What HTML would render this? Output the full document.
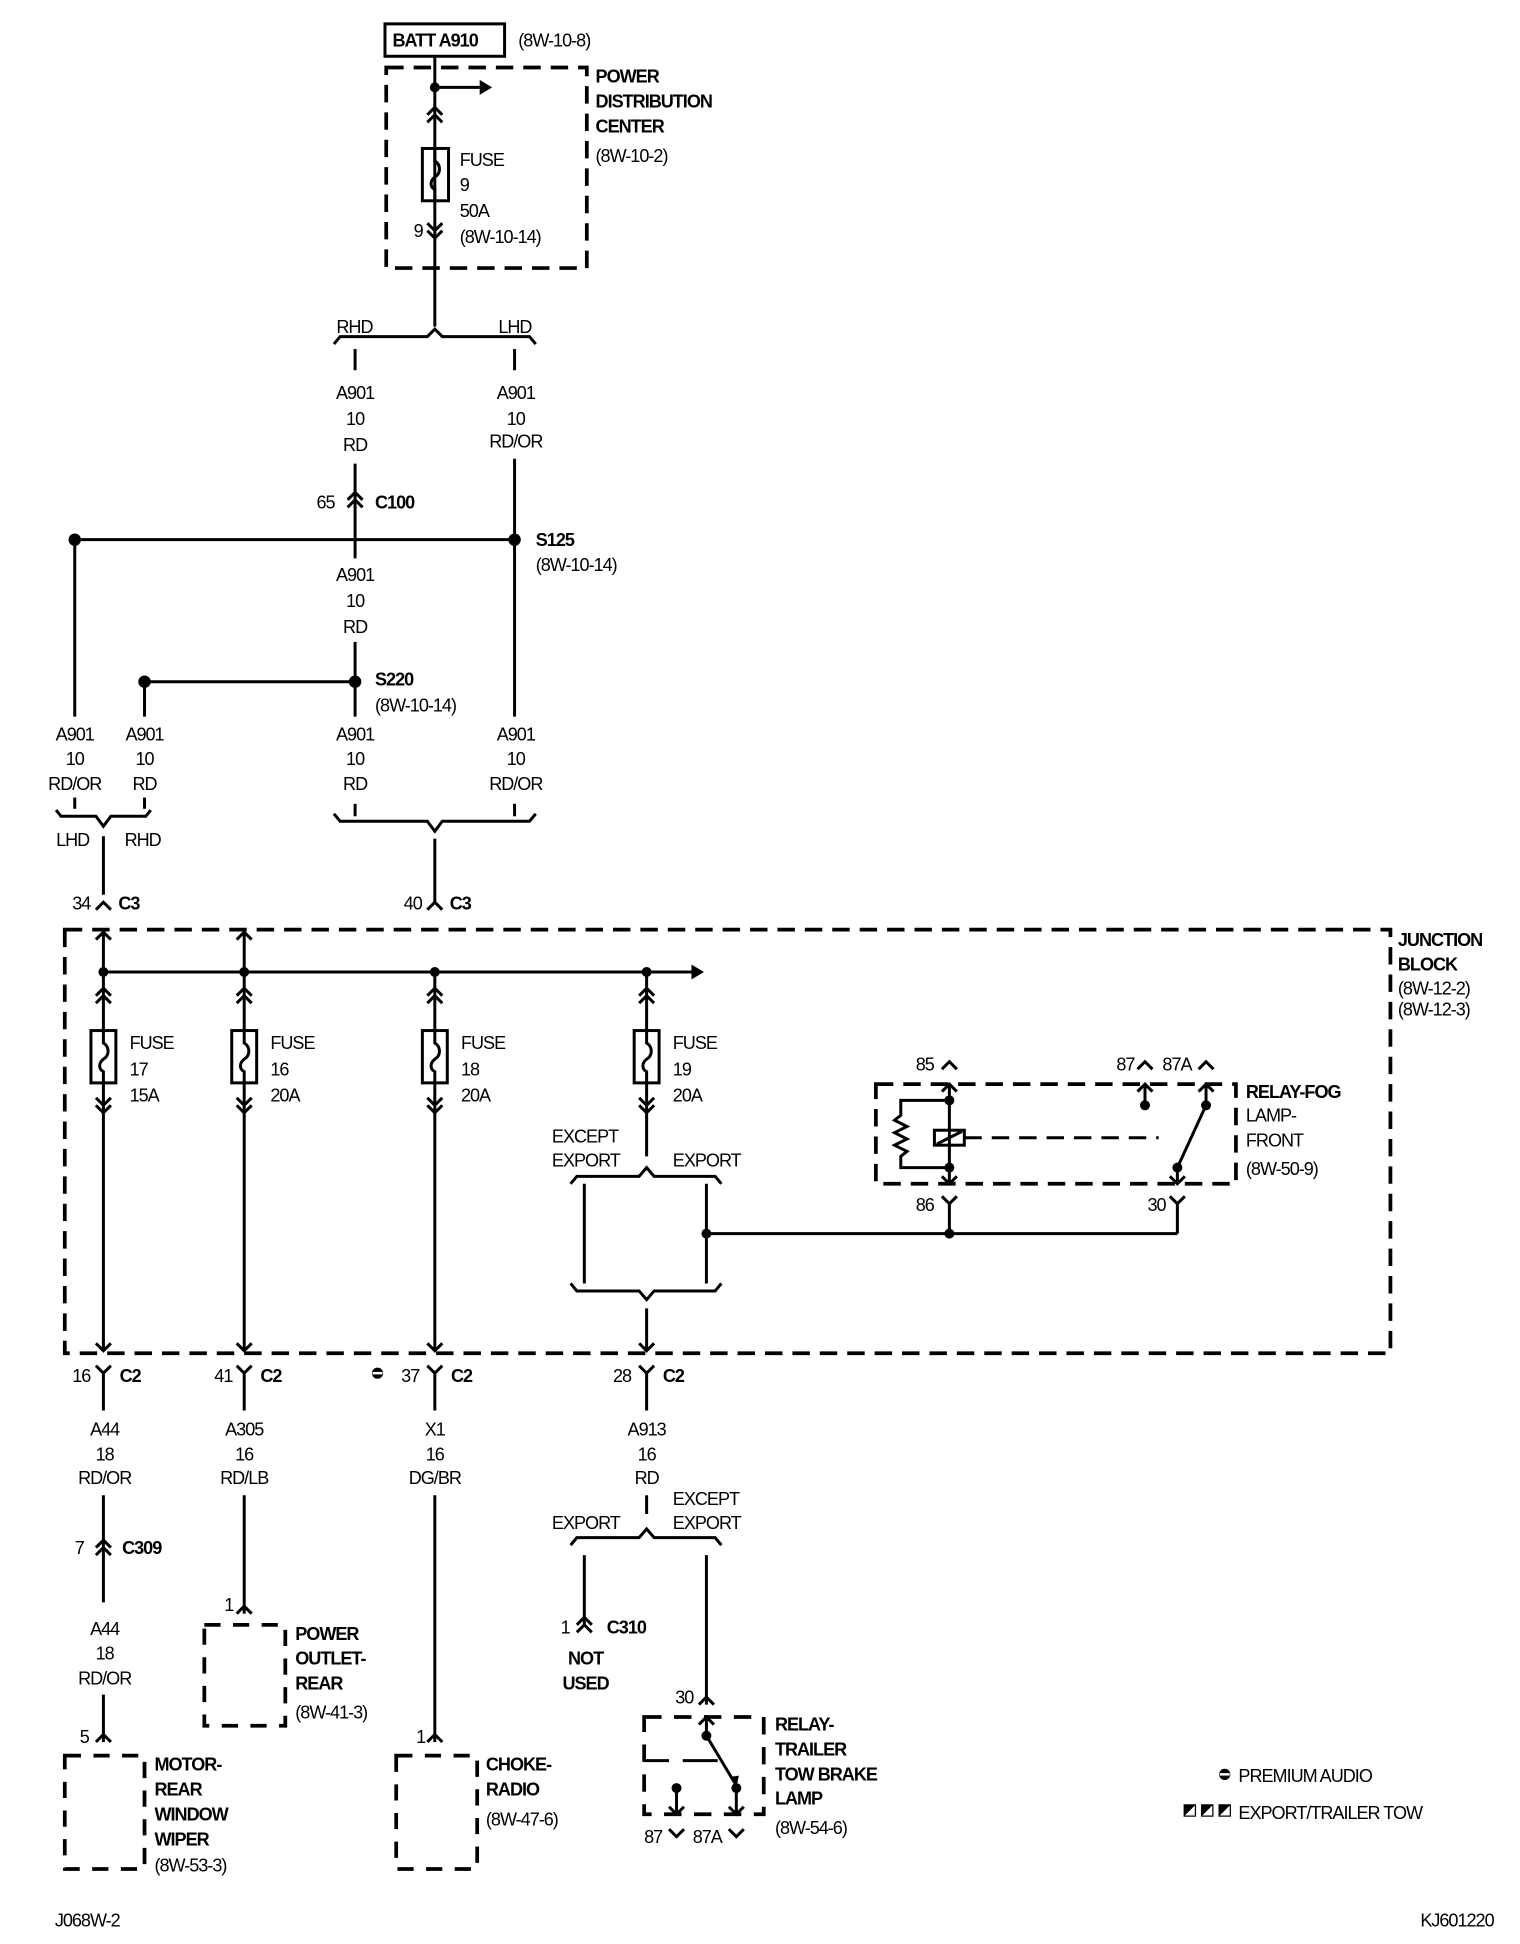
<!DOCTYPE html>
<html><head><meta charset="utf-8"><style>
html,body{margin:0;padding:0;background:#fff}
svg{display:block}
text{font-family:"Liberation Sans",sans-serif;font-size:14.5px;fill:#000;letter-spacing:-0.8px}
.b{font-weight:bold}
.c{text-anchor:middle}
</style></head><body>
<svg width="1520" height="1944" viewBox="0 0 1220 1560" xmlns="http://www.w3.org/2000/svg">
<g fill="none" stroke="#000" stroke-width="2.4">
<rect x="309" y="19" width="96" height="26"/>
<rect x="310" y="54" width="161" height="161" stroke-dasharray="14 8" stroke-width="3"/>
<line x1="349" y1="45" x2="349" y2="262"/>
<line x1="349" y1="70" x2="385" y2="70"/>
<path d="M343 92l6-6 6 6M343 98l6-6 6 6"/>
<rect x="339" y="119" width="21" height="42"/>
<path d="M349 119v10c5 3 5 10 0 13c-4 3-4 8 0 10v9"/>
<path d="M343 179l6 6 6-6M343 185l6 6 6-6"/>
<path d="M268 276l5-6h70l6-6 6 6h70l5 6"/>
<line x1="285" y1="280" x2="285" y2="297"/>
<line x1="413" y1="280" x2="413" y2="297"/>
<line x1="285" y1="372" x2="285" y2="448"/>
<path d="M279 401l6-6 6 6M279 407l6-6 6 6"/>
<line x1="413" y1="368" x2="413" y2="575"/>
<line x1="60" y1="433" x2="413" y2="433"/>
<line x1="60" y1="433" x2="60" y2="575"/>
<line x1="285" y1="515" x2="285" y2="575"/>
<line x1="116" y1="547" x2="285" y2="547"/>
<line x1="116" y1="547" x2="116" y2="575"/>
<line x1="60" y1="640" x2="60" y2="649"/><line x1="116" y1="640" x2="116" y2="649"/>
<path d="M45 650l4 5h28l6 8 6-8h28l4-5"/>
<line x1="83" y1="671" x2="83" y2="718"/>
<path d="M77 730l6-6 6 6"/>
<line x1="285" y1="645" x2="285" y2="655"/><line x1="413" y1="645" x2="413" y2="655"/>
<path d="M268 653l5 6h70l6 8 6-8h70l5-6"/>
<line x1="349" y1="673" x2="349" y2="724"/>
<path d="M343 730l6-6 6 6"/>
<rect x="52" y="746" width="1064" height="340" stroke-dasharray="14 8" stroke-width="3"/>
<path d="M77 754l6-6 6 6M190 754l6-6 6 6"/>
<line x1="83" y1="748" x2="83" y2="1084"/>
<line x1="196" y1="748" x2="196" y2="1084"/>
<line x1="349" y1="780" x2="349" y2="1084"/>
<line x1="519" y1="780" x2="519" y2="928"/>
<line x1="83" y1="780" x2="555" y2="780"/>
<g id="fz">
<path d="M77 799l6-6 6 6M77 805l6-6 6 6"/>
<rect x="73" y="827" width="20" height="42" fill="#fff"/>
<path d="M83 827v10c5 3 5 10 0 13c-4 3-4 8 0 10v9"/>
<path d="M77 881l6 6 6-6M77 887l6 6 6-6"/>
<path d="M77 1078l6 6 6-6"/>
</g>
<use href="#fz" x="113"/><use href="#fz" x="266"/><use href="#fz" x="436"/>
<path d="M458 950l5-6h50l6-7 6 7h49l5 6"/>
<line x1="469" y1="950" x2="469" y2="1030"/>
<line x1="567" y1="950" x2="567" y2="1030"/>
<line x1="567" y1="990" x2="945" y2="990"/>
<path d="M458 1030l5 6h50l6 7 6-7h49l5-6"/>
<line x1="519" y1="1050" x2="519" y2="1084"/>
<rect x="703" y="870" width="289" height="80" stroke-dasharray="14 8" stroke-width="3"/>
<path d="M756 858l6-6 6 6M913 858l6-6 6 6M962 858l6-6 6 6"/>
<line x1="762" y1="870" x2="762" y2="950"/>
<path d="M756 876l6-6 6 6M756 944l6 6 6-6"/>
<path d="M762 883h-39v12l-5 4 10 5-10 5 10 5-10 5 10 5-5 4v9h39"/>
<rect x="750" y="907" width="24" height="12"/>
<path d="M752 918l20-10"/>
<line x1="774" y1="913" x2="930" y2="913" stroke-dasharray="14 8"/>
<line x1="919" y1="870" x2="919" y2="887"/>
<path d="M913 876l6-6 6 6"/>
<line x1="968" y1="870" x2="968" y2="887"/>
<path d="M962 876l6-6 6 6"/>
<line x1="968" y1="887" x2="945" y2="937"/>
<line x1="945" y1="937" x2="945" y2="950"/>
<path d="M939 944l6 6 6-6"/>
<path d="M756 960l6 6 6-6M762 966v24M939 960l6 6 6-6M945 966v24"/>
<path d="M77 1096l6 6 6-6M83 1102v30M190 1096l6 6 6-6M196 1102v30M343 1096l6 6 6-6M349 1102v30M513 1096l6 6 6-6M519 1102v30"/>
<line x1="83" y1="1200" x2="83" y2="1286"/>
<path d="M77 1242l6-6 6 6M77 1248l6-6 6 6"/>
<line x1="83" y1="1360" x2="83" y2="1398"/>
<path d="M77 1398l6-6 6 6"/>
<rect x="52" y="1409" width="64" height="91" stroke-dasharray="13 10" stroke-width="3"/>
<line x1="196" y1="1200" x2="196" y2="1295"/>
<path d="M190 1295l6-6 6 6"/>
<rect x="164" y="1304" width="65" height="81" stroke-dasharray="13 10" stroke-width="3"/>
<line x1="349" y1="1200" x2="349" y2="1398"/>
<path d="M343 1398l6-6 6 6"/>
<rect x="318" y="1409" width="65" height="91" stroke-dasharray="13 10" stroke-width="3"/>
<line x1="519" y1="1200" x2="519" y2="1215"/>
<path d="M458 1240l5-6h50l6-7 6 7h49l5 6"/>
<line x1="469" y1="1248" x2="469" y2="1304"/>
<path d="M463 1304l6-6 6 6M463 1310l6-6 6 6"/>
<line x1="567" y1="1248" x2="567" y2="1368"/>
<path d="M561 1368l6-6 6 6"/>
<rect x="517" y="1378" width="96" height="78" stroke-dasharray="14 10" stroke-width="3"/>
<line x1="567" y1="1378" x2="567" y2="1393"/>
<path d="M561 1384l6-6 6 6"/>
<line x1="567" y1="1393" x2="591" y2="1433"/>
<line x1="591" y1="1435" x2="591" y2="1456"/>
<path d="M585 1450l6 6 6-6M537 1450l6 6 6-6"/>
<line x1="543" y1="1435" x2="543" y2="1456"/>
<path d="M517 1413h20M548 1413h28"/>
<path d="M537 1468l6 6 6-6M585 1468l6 6 6-6"/>
</g>
<g fill="#000">
<path d="M385 64l10 6-10 6z"/>
<path d="M555 774l10 6-10 6z"/>
<path d="M586 1426l5 9 2-10z"/>
<circle cx="349" cy="70" r="4"/>
<circle cx="60" cy="433" r="5"/><circle cx="413" cy="433" r="5"/>
<circle cx="116" cy="547" r="5"/><circle cx="285" cy="547" r="5"/>
<circle cx="83" cy="780" r="4"/><circle cx="196" cy="780" r="4"/><circle cx="349" cy="780" r="4"/><circle cx="519" cy="780" r="4"/>
<circle cx="567" cy="990" r="4"/><circle cx="762" cy="990" r="4"/>
<circle cx="762" cy="883" r="4"/><circle cx="762" cy="937" r="4"/>
<circle cx="919" cy="887" r="4"/><circle cx="968" cy="887" r="4"/><circle cx="945" cy="937" r="4"/>
<circle cx="567" cy="1393" r="4"/><circle cx="591" cy="1435" r="4"/><circle cx="543" cy="1435" r="4"/>
<circle cx="303" cy="1102" r="4.5"/><circle cx="983" cy="1424" r="4.5"/>
<rect x="950" y="1448" width="10" height="10"/><rect x="964" y="1448" width="10" height="10"/><rect x="978" y="1448" width="10" height="10"/>
</g>
<g fill="#fff" stroke="none"><rect x="299" y="1101" width="8" height="2"/><rect x="979" y="1423" width="8" height="2"/>
<path d="M951 1457l8-8v8zM965 1457l8-8v8zM979 1457l8-8v8z"/></g>

<text class="b" x="315" y="37">BATT A910</text>
<text x="416" y="37">(8W-10-8)</text>
<text class="b" x="478" y="66">POWER</text>
<text class="b" x="478" y="86">DISTRIBUTION</text>
<text class="b" x="478" y="106">CENTER</text>
<text x="478" y="130">(8W-10-2)</text>
<text x="369" y="133">FUSE</text><text x="369" y="153">9</text><text x="369" y="174">50A</text><text x="369" y="195">(8W-10-14)</text>
<text x="332" y="190">9</text>
<text x="270" y="267">RHD</text><text x="400" y="267">LHD</text>
<text class="c" x="285" y="320">A901</text><text class="c" x="285" y="341">10</text><text class="c" x="285" y="362">RD</text>
<text class="c" x="414" y="320">A901</text><text class="c" x="414" y="341">10</text><text class="c" x="414" y="359">RD/OR</text>
<text x="254" y="408">65</text><text class="b" x="301" y="408">C100</text>
<text class="b" x="430" y="438">S125</text><text x="430" y="458">(8W-10-14)</text>
<text class="c" x="285" y="466">A901</text><text class="c" x="285" y="487">10</text><text class="c" x="285" y="508">RD</text>
<text class="b" x="301" y="550">S220</text><text x="301" y="571">(8W-10-14)</text>
<text class="c" x="60" y="594">A901</text><text class="c" x="60" y="614">10</text><text class="c" x="60" y="634">RD/OR</text>
<text class="c" x="116" y="594">A901</text><text class="c" x="116" y="614">10</text><text class="c" x="116" y="634">RD</text>
<text class="c" x="285" y="594">A901</text><text class="c" x="285" y="614">10</text><text class="c" x="285" y="634">RD</text>
<text class="c" x="414" y="594">A901</text><text class="c" x="414" y="614">10</text><text class="c" x="414" y="634">RD/OR</text>
<text x="45" y="679">LHD</text><text x="100" y="679">RHD</text>
<text x="58" y="730">34</text><text class="b" x="95" y="730">C3</text>
<text x="324" y="730">40</text><text class="b" x="361" y="730">C3</text>
<text class="b" x="1122" y="759">JUNCTION</text><text class="b" x="1122" y="779">BLOCK</text>
<text x="1122" y="798">(8W-12-2)</text><text x="1122" y="815">(8W-12-3)</text>
<text x="104" y="842">FUSE</text><text x="104" y="863">17</text><text x="104" y="884">15A</text>
<text x="217" y="842">FUSE</text><text x="217" y="863">16</text><text x="217" y="884">20A</text>
<text x="370" y="842">FUSE</text><text x="370" y="863">18</text><text x="370" y="884">20A</text>
<text x="540" y="842">FUSE</text><text x="540" y="863">19</text><text x="540" y="884">20A</text>
<text x="443" y="917">EXCEPT</text><text x="443" y="936">EXPORT</text><text x="540" y="936">EXPORT</text>
<text x="735" y="859">85</text><text x="896" y="859">87</text><text x="933" y="859">87A</text>
<text class="b" x="1000" y="881">RELAY-FOG</text><text x="1000" y="900">LAMP-</text><text x="1000" y="920">FRONT</text><text x="1000" y="943">(8W-50-9)</text>
<text x="735" y="972">86</text><text x="921" y="972">30</text>
<text x="58" y="1109">16</text><text class="b" x="96" y="1109">C2</text>
<text x="172" y="1109">41</text><text class="b" x="209" y="1109">C2</text>
<text x="322" y="1109">37</text><text class="b" x="362" y="1109">C2</text>
<text x="492" y="1109">28</text><text class="b" x="532" y="1109">C2</text>
<text class="c" x="84" y="1152">A44</text><text class="c" x="84" y="1172">18</text><text class="c" x="84" y="1191">RD/OR</text>
<text class="c" x="196" y="1152">A305</text><text class="c" x="196" y="1172">16</text><text class="c" x="196" y="1191">RD/LB</text>
<text class="c" x="349" y="1152">X1</text><text class="c" x="349" y="1172">16</text><text class="c" x="349" y="1191">DG/BR</text>
<text class="c" x="519" y="1152">A913</text><text class="c" x="519" y="1172">16</text><text class="c" x="519" y="1191">RD</text>
<text x="60" y="1247">7</text><text class="b" x="98" y="1247">C309</text>
<text class="c" x="84" y="1312">A44</text><text class="c" x="84" y="1332">18</text><text class="c" x="84" y="1352">RD/OR</text>
<text x="64" y="1399">5</text>
<text class="b" x="124" y="1421">MOTOR-</text><text class="b" x="124" y="1441">REAR</text><text class="b" x="124" y="1461">WINDOW</text><text class="b" x="124" y="1481">WIPER</text><text x="124" y="1502">(8W-53-3)</text>
<text x="180" y="1293">1</text>
<text class="b" x="237" y="1316">POWER</text><text class="b" x="237" y="1336">OUTLET-</text><text class="b" x="237" y="1356">REAR</text><text x="237" y="1379">(8W-41-3)</text>
<text x="334" y="1399">1</text>
<text class="b" x="390" y="1421">CHOKE-</text><text class="b" x="390" y="1441">RADIO</text><text x="390" y="1465">(8W-47-6)</text>
<text x="443" y="1227">EXPORT</text><text x="540" y="1208">EXCEPT</text><text x="540" y="1227">EXPORT</text>
<text x="450" y="1311">1</text><text class="b" x="487" y="1311">C310</text>
<text class="b c" x="470" y="1336">NOT</text><text class="b c" x="470" y="1356">USED</text>
<text x="542" y="1367">30</text>
<text class="b" x="622" y="1389">RELAY-</text><text class="b" x="622" y="1409">TRAILER</text><text class="b" x="622" y="1429">TOW BRAKE</text><text class="b" x="622" y="1448">LAMP</text><text x="622" y="1472">(8W-54-6)</text>
<text x="517" y="1479">87</text><text x="556" y="1479">87A</text>
<text x="994" y="1430">PREMIUM AUDIO</text>
<text x="994" y="1460">EXPORT/TRAILER TOW</text>
<text x="44" y="1546">J068W-2</text>
<text x="1140" y="1546">KJ601220</text>
</svg>
</body></html>
